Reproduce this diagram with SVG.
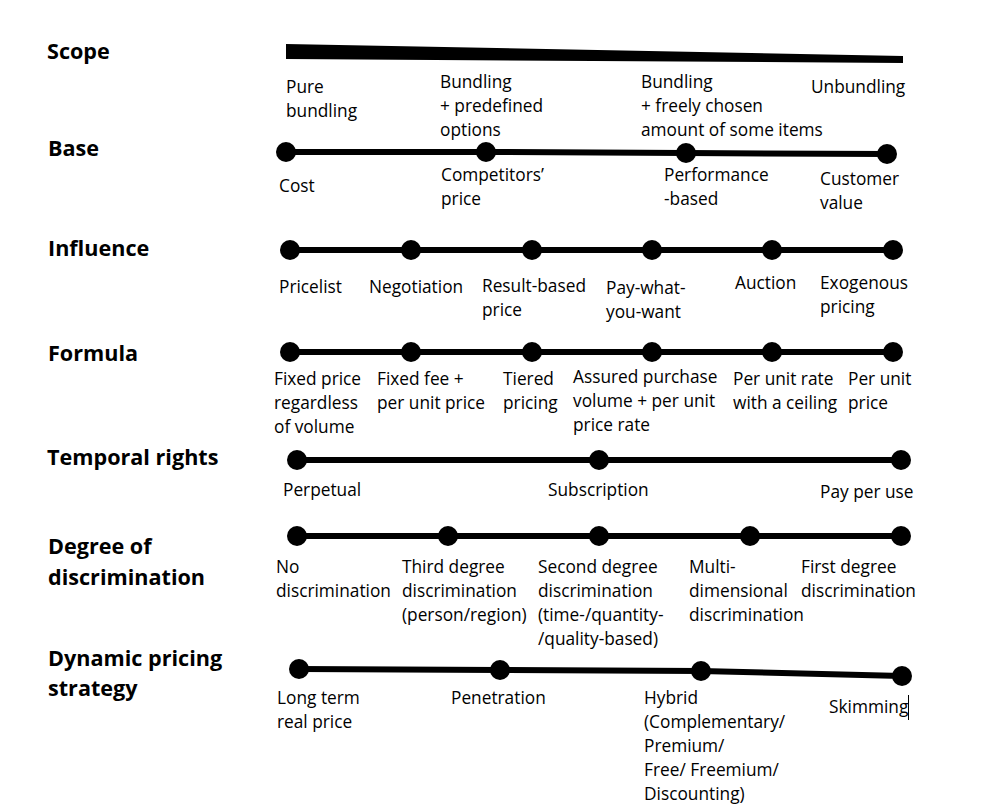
<svg xmlns="http://www.w3.org/2000/svg" width="997" height="810" viewBox="0 0 997 810">
  <style>
    .title { font-family: "Open Sans", "Noto Sans", sans-serif; font-weight: bold; font-size: 21.6px; fill: #000; }
    .lbl { font-family: "Open Sans", "Noto Sans", sans-serif; font-size: 17.3px; fill: #000; }
    .axis { fill: none; stroke: #000; stroke-width: 6; stroke-linejoin: round; }
    .dot { fill: #000; }
  </style>
  <defs>
    <circle id="pt" r="10" class="dot"/>
  </defs>
  <rect width="997" height="810" fill="#fff"/>

  <!-- Scope -->
  <g id="scope">
    <text class="title" x="47" y="59">Scope</text>
    <polygon points="286,44 903,56 903,63 286,59" fill="#000"/>
    <text class="lbl" x="286" y="93">Pure<tspan x="286" dy="24">bundling</tspan></text>
    <text class="lbl" x="440" y="88">Bundling<tspan x="440" dy="24">+ predefined</tspan><tspan x="440" dy="24">options</tspan></text>
    <text class="lbl" x="641" y="88">Bundling<tspan x="641" dy="24">+ freely chosen</tspan><tspan x="641" dy="24">amount of some items</tspan></text>
    <text class="lbl" x="811" y="93">Unbundling</text>
  </g>

  <!-- Base -->
  <g id="base">
    <text class="title" x="48" y="156">Base</text>
    <g class="connectors">
      <polyline class="axis" points="286,152 486,152 686,153 887,154"/>
    </g>
    <use href="#pt" x="286" y="152"/>
    <use href="#pt" x="486" y="152"/>
    <use href="#pt" x="686" y="153"/>
    <use href="#pt" x="887" y="154"/>
    <text class="lbl" x="279" y="192">Cost</text>
    <text class="lbl" x="441" y="181">Competitors’<tspan x="441" dy="24">price</tspan></text>
    <text class="lbl" x="664" y="181">Performance<tspan x="664" dy="24">-based</tspan></text>
    <text class="lbl" x="820" y="185">Customer<tspan x="820" dy="24">value</tspan></text>
  </g>

  <!-- Influence -->
  <g id="influence">
    <text class="title" x="48" y="256">Influence</text>
    <g class="connectors">
      <polyline class="axis" points="290,250 893,250"/>
    </g>
    <use href="#pt" x="290" y="250"/>
    <use href="#pt" x="411" y="250"/>
    <use href="#pt" x="532" y="250"/>
    <use href="#pt" x="652" y="250"/>
    <use href="#pt" x="772" y="250"/>
    <use href="#pt" x="893" y="250"/>
    <text class="lbl" x="279" y="293">Pricelist</text>
    <text class="lbl" x="369" y="293">Negotiation</text>
    <text class="lbl" x="482" y="292">Result-based<tspan x="482" dy="24">price</tspan></text>
    <text class="lbl" x="606" y="294">Pay-what-<tspan x="606" dy="24">you-want</tspan></text>
    <text class="lbl" x="735" y="289">Auction</text>
    <text class="lbl" x="820" y="289">Exogenous<tspan x="820" dy="24">pricing</tspan></text>
  </g>

  <!-- Formula -->
  <g id="formula">
    <text class="title" x="48" y="361">Formula</text>
    <g class="connectors">
      <polyline class="axis" points="290,352 893,352"/>
    </g>
    <use href="#pt" x="290" y="352"/>
    <use href="#pt" x="411" y="352"/>
    <use href="#pt" x="532" y="352"/>
    <use href="#pt" x="652" y="352"/>
    <use href="#pt" x="772" y="352"/>
    <use href="#pt" x="893" y="352"/>
    <text class="lbl" x="274" y="385">Fixed price<tspan x="274" dy="24">regardless</tspan><tspan x="274" dy="24">of volume</tspan></text>
    <text class="lbl" x="377" y="385">Fixed fee +<tspan x="377" dy="24">per unit price</tspan></text>
    <text class="lbl" x="503" y="385">Tiered<tspan x="503" dy="24">pricing</tspan></text>
    <text class="lbl" x="573" y="383">Assured purchase<tspan x="573" dy="24">volume + per unit</tspan><tspan x="573" dy="24">price rate</tspan></text>
    <text class="lbl" x="733" y="385">Per unit rate<tspan x="733" dy="24">with a ceiling</tspan></text>
    <text class="lbl" x="848" y="385">Per unit<tspan x="848" dy="24">price</tspan></text>
  </g>

  <!-- Temporal rights -->
  <g id="temporal-rights">
    <text class="title" x="47" y="465">Temporal rights</text>
    <g class="connectors">
      <polyline class="axis" points="297,460 901,460"/>
    </g>
    <use href="#pt" x="297" y="460"/>
    <use href="#pt" x="599" y="460"/>
    <use href="#pt" x="901" y="460"/>
    <text class="lbl" x="283" y="496">Perpetual</text>
    <text class="lbl" x="548" y="496">Subscription</text>
    <text class="lbl" x="820" y="498">Pay per use</text>
  </g>

  <!-- Degree of discrimination -->
  <g id="degree-of-discrimination">
    <text class="title" x="48" y="554">Degree of<tspan x="48" dy="31">discrimination</tspan></text>
    <g class="connectors">
      <polyline class="axis" points="297,536 901,536"/>
    </g>
    <use href="#pt" x="297" y="536"/>
    <use href="#pt" x="448" y="536"/>
    <use href="#pt" x="599" y="536"/>
    <use href="#pt" x="750" y="536"/>
    <use href="#pt" x="901" y="536"/>
    <text class="lbl" x="276" y="573">No<tspan x="276" dy="24">discrimination</tspan></text>
    <text class="lbl" x="402" y="573">Third degree<tspan x="402" dy="24">discrimination</tspan><tspan x="402" dy="24">(person/region)</tspan></text>
    <text class="lbl" x="538" y="573">Second degree<tspan x="538" dy="24">discrimination</tspan><tspan x="538" dy="24">(time-/quantity-</tspan><tspan x="538" dy="24">/quality-based)</tspan></text>
    <text class="lbl" x="689" y="573">Multi-<tspan x="689" dy="24">dimensional</tspan><tspan x="689" dy="24">discrimination</tspan></text>
    <text class="lbl" x="801" y="573">First degree<tspan x="801" dy="24">discrimination</tspan></text>
  </g>

  <!-- Dynamic pricing strategy -->
  <g id="dynamic-pricing-strategy">
    <text class="title" x="48" y="666">Dynamic pricing<tspan x="48" dy="30">strategy</tspan></text>
    <g class="connectors">
      <polyline class="axis" points="299,669 500,670 701,671 902,676"/>
    </g>
    <use href="#pt" x="299" y="669"/>
    <use href="#pt" x="500" y="670"/>
    <use href="#pt" x="701" y="671"/>
    <use href="#pt" x="902" y="676"/>
    <text class="lbl" x="277" y="704">Long term<tspan x="277" dy="24">real price</tspan></text>
    <text class="lbl" x="451" y="704">Penetration</text>
    <text class="lbl" x="644" y="704">Hybrid<tspan x="644" dy="24">(Complementary/</tspan><tspan x="644" dy="24">Premium/</tspan><tspan x="644" dy="24">Free/ Freemium/</tspan><tspan x="644" dy="24">Discounting)</tspan></text>
    <text class="lbl" x="829" y="713">Skimming</text>
    <line x1="908.5" y1="695" x2="908.5" y2="720" stroke="#000" stroke-width="1"/>
  </g>
</svg>
